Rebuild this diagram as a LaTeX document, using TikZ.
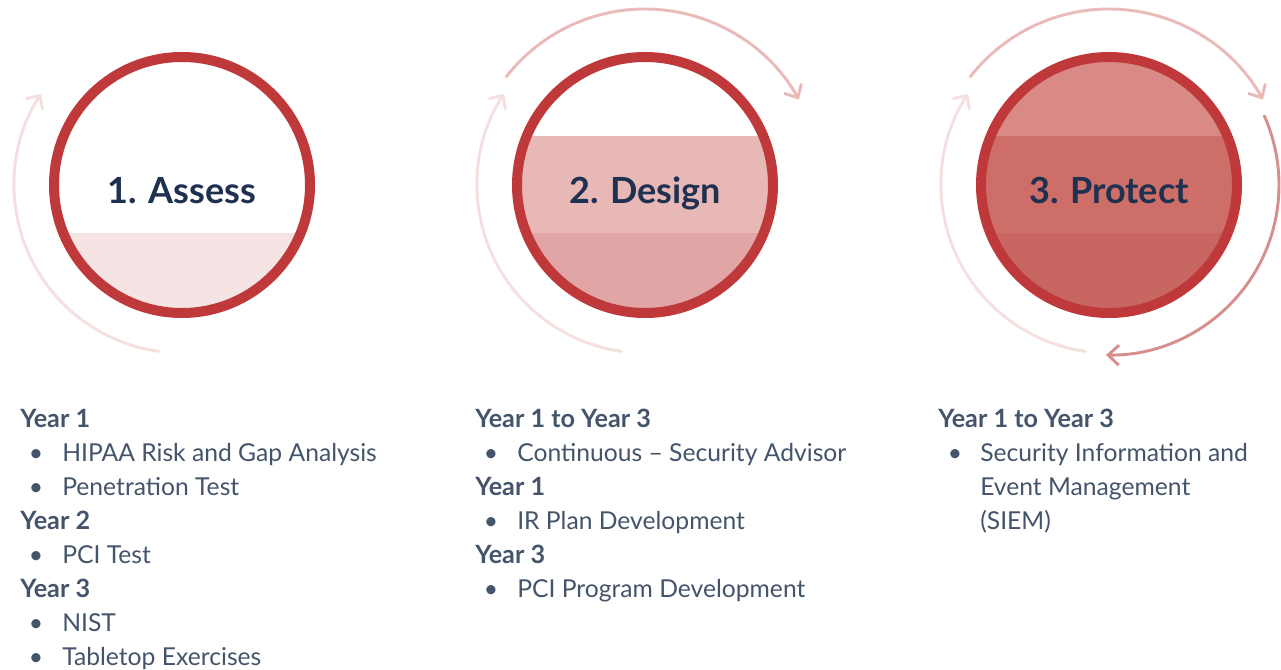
\documentclass[tikz,border=0pt]{standalone}
\usepackage{fontspec}
\setmainfont{Lato}
\usetikzlibrary{arrows.meta, positioning}
\definecolor{mRed}{HTML}{C0393A}
\definecolor{mNavy}{HTML}{1F3150}
\definecolor{mSlate}{HTML}{44546A}
\definecolor{mBandA}{HTML}{F6E4E4}
\definecolor{mBandB}{HTML}{E8B8B7}
\definecolor{mBandC}{HTML}{E0A5A4}
\definecolor{mBandD}{HTML}{D98A86}
\definecolor{mBandE}{HTML}{CD6E68}
\definecolor{mBandF}{HTML}{C86661}
\definecolor{mLoopA}{HTML}{F4E0DF}
\definecolor{mLoopB}{HTML}{E9BAB8}
\definecolor{mLoopC}{HTML}{D68F8D}

\begin{document}
\begin{tikzpicture}[x=0.75pt, y=0.75pt,
    phase/.style={circle, draw=mRed, line width=7.5pt, minimum size=192pt, inner sep=0pt},
    title/.style={font=\fontsize{27}{30}\selectfont\bfseries, text=mNavy, anchor=base},
    loop/.style={line width=2.2pt, line cap=round, -{Straight Barb[length=8pt, width=15pt]}},
    head/.style={font=\fontsize{18.9}{21}\selectfont\bfseries, text=mSlate, anchor=base west, inner sep=0pt},
    item/.style={font=\fontsize{18.5}{21}\selectfont, text=mSlate, anchor=base west, inner sep=0pt},
    bul/.style={font=\fontsize{18.5}{21}\selectfont, text=mSlate, anchor=base, inner sep=0pt}]
  \useasboundingbox (0,0) rectangle (1281,-670);

  % the three phases
  \foreach \n/\x/\ca/\cb/\cc/\t in {1/182/white/white/mBandA/1. Assess,
                                    2/645/white/mBandB/mBandC/2. Design,
                                    3/1109/mBandD/mBandE/mBandF/3. Protect} {
    \begin{scope}
      \clip (\x,-185) circle[radius=130];
      \fill[\ca] (\x-140,-40) rectangle (\x+140,-136);
      \fill[\cb] (\x-140,-136) rectangle (\x+140,-233);
      \fill[\cc] (\x-140,-233) rectangle (\x+140,-330);
    \end{scope}
    \node[phase] (c\n) at (\x,-185) {};
    \node[title] (t\n) at (\x,-204) {\t};
  }

  % cycle arrows
  \foreach \c/\a/\b/\r/\col in {1/262/147/168/mLoopA, 2/262/147/168/mLoopA,
                                2/142/29/176/mLoopB, 3/262/147/168/mLoopA,
                                3/142/29/176/mLoopB, 3/24/-91/170/mLoopC} {
    \draw[loop, draw=\col] (c\c.center) ++(\a:\r) arc[start angle=\a, end angle=\b, radius=\r];
  }

  % year headings
  \foreach \x/\y/\t [count=\i] in {20/427/Year 1, 20/529/Year 2, 20/597/Year 3,
                                   475/427/Year 1 to Year 3, 475/495/Year 1, 475/563/Year 3,
                                   938/427/Year 1 to Year 3} {
    \node[head] (h\i) at (\x,-\y) {\t};
  }

  % items
  \foreach \x/\y/\t [count=\i] in {62/461/HIPAA Risk and Gap Analysis, 62/495/Penetration Test,
                                   62/563/PCI Test, 62/631/NIST, 62/665/Tabletop Exercises,
                                   517/461/Continuous -- Security Advisor, 517/529/IR Plan Development,
                                   517/597/PCI Program Development,
                                   980/461/Security Information and, 980/495/Event Management,
                                   980/529/(SIEM)} {
    \node[item] (i\i) at (\x,-\y) {\t};
  }
  \foreach \x/\y [count=\i] in {36/461, 36/495, 36/563, 36/631, 36/665,
                                491/461, 491/529, 491/597, 955/461} {
    \node[bul] (b\i) at (\x,-\y) {\textbullet};
  }
\end{tikzpicture}
\end{document}
